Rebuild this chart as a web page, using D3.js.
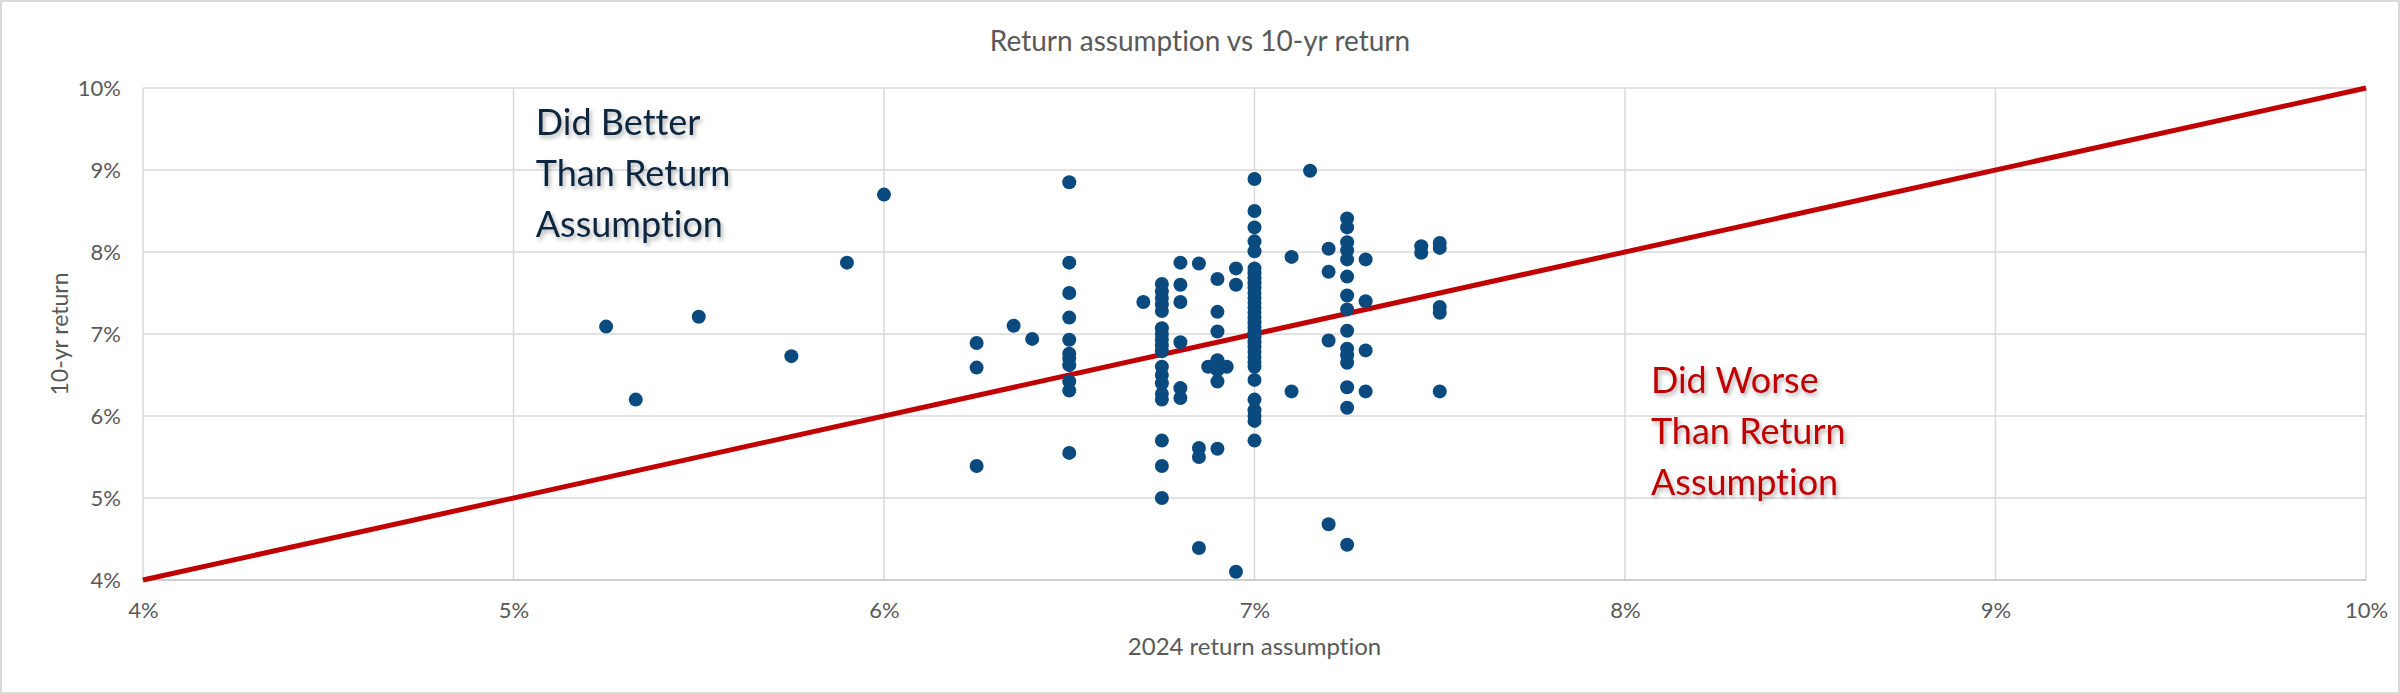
<!DOCTYPE html>
<html>
<head>
<meta charset="utf-8">
<title>Return assumption vs 10-yr return</title>
<script src="https://cdn.jsdelivr.net/npm/d3@7"></script>
<style>
    body { margin: 0; background: #ffffff; }
    #chart svg { display: block; }
    #chart text { font-variant-ligatures: none; }
</style>
</head>
<body>
<div id="chart"></div>
<script>
"use strict";

// 2024 return assumption (x) and 10-yr return (y), one pair per plan
const assumption = [
    5.25, 5.33, 5.5, 5.75, 5.9, 6.0,
    6.25, 6.25, 6.25, 6.35, 6.4,
    6.5, 6.5, 6.5, 6.5, 6.5, 6.5, 6.5, 6.5, 6.5, 6.5, 6.5,
    6.7,
    6.75, 6.75, 6.75, 6.75, 6.75, 6.75, 6.75, 6.75, 6.75, 6.75, 6.75, 6.75, 6.75, 6.75, 6.75, 6.75, 6.75, 6.75,
    6.8, 6.8, 6.8, 6.8, 6.8, 6.8,
    6.85, 6.85, 6.85, 6.85,
    6.9, 6.9, 6.9, 6.9, 6.875, 6.925, 6.9, 6.9, 6.9,
    6.95, 6.95, 6.95,
    7.0, 7.0, 7.0, 7.0, 7.0,
    7.0, 7.0, 7.0, 7.0, 7.0, 7.0, 7.0, 7.0, 7.0, 7.0, 7.0, 7.0, 7.0, 7.0, 7.0, 7.0, 7.0, 7.0, 7.0, 7.0, 7.0,
    7.0, 7.0, 7.0, 7.0, 7.0, 7.0,
    7.1, 7.1, 7.15,
    7.2, 7.2, 7.2, 7.2,
    7.25, 7.25, 7.25, 7.25, 7.25, 7.25, 7.25, 7.25, 7.25, 7.25, 7.25, 7.25, 7.25, 7.25, 7.25,
    7.3, 7.3, 7.3, 7.3,
    7.45, 7.45,
    7.5, 7.5, 7.5, 7.5, 7.5
];

const tenYearReturn = [
    7.09, 6.20, 7.21, 6.73, 7.87, 8.70,
    6.89, 6.59, 5.39, 7.10, 6.94,
    8.85, 7.87, 7.50, 7.20, 6.93, 6.76, 6.70, 6.62, 6.42, 6.31, 5.55,
    7.39,
    7.61, 7.52, 7.44, 7.36, 7.28, 7.07, 7.00, 6.93, 6.86, 6.79, 6.60, 6.50, 6.40, 6.27, 6.20, 5.70, 5.39, 5.00,
    7.87, 7.60, 7.39, 6.90, 6.34, 6.22,
    7.86, 5.61, 5.50, 4.39,
    7.67, 7.27, 7.03, 6.68, 6.60, 6.60, 6.56, 6.42, 5.60,
    7.80, 7.60, 4.10,
    8.89, 8.50, 8.30, 8.13, 8.01,
    7.80, 7.74, 7.68, 7.62, 7.56, 7.50, 7.44, 7.38, 7.32, 7.26, 7.20, 7.14, 7.08, 7.02, 6.96, 6.90, 6.84, 6.78, 6.72, 6.66, 6.60,
    6.44, 6.20, 6.07, 6.00, 5.94, 5.70,
    7.94, 6.30, 8.99,
    8.04, 7.76, 6.92, 4.68,
    8.41, 8.30, 8.12, 8.02, 7.91, 7.70, 7.47, 7.30, 7.04, 6.82, 6.74, 6.65, 6.35, 6.10, 4.43,
    7.91, 7.40, 6.80, 6.30,
    8.07, 7.99,
    8.11, 8.05, 7.33, 7.26, 6.30
];

// break-even line: 10-yr return equal to the assumption
const breakEvenX = [4, 10];
const breakEvenY = [4, 10];

const xTicks = [4, 5, 6, 7, 8, 9, 10];
const yTicks = [4, 5, 6, 7, 8, 9, 10];

const chartTitle = "Return assumption vs 10-yr return";
const xTitle = "2024 return assumption";
const yTitle = "10-yr return";
const betterLines = ["Did Better", "Than Return", "Assumption"];
const worseLines = ["Did Worse", "Than Return", "Assumption"];


const totalWidth = 2400,
    totalHeight = 694;

const margin = {top: 88, right: 34, bottom: 114, left: 143},
    width = totalWidth - margin.left - margin.right,
    height = totalHeight - margin.top - margin.bottom;

const fontFamily = "Lato, 'Open Sans', 'DejaVu Sans', sans-serif";
const textGrey = "#595959";
const gridGrey = "#d9d9d9";

const root = d3.select("#chart")
    .append("svg")
    .attr("width", totalWidth)
    .attr("height", totalHeight)
    .attr("font-family", fontFamily);

// soft shadow used by the two annotations
const defs = root.append("defs");
defs.append("filter")
    .attr("id", "text-shadow")
    .attr("x", "-10%").attr("y", "-30%")
    .attr("width", "130%").attr("height", "170%")
    .append("feDropShadow")
    .attr("dx", 2)
    .attr("dy", 3)
    .attr("stdDeviation", 2)
    .attr("flood-color", "#000000")
    .attr("flood-opacity", 0.3);

// chart area border
root.append("rect")
    .attr("x", 1)
    .attr("y", 1)
    .attr("width", totalWidth - 2)
    .attr("height", totalHeight - 2)
    .attr("fill", "#ffffff")
    .attr("stroke", gridGrey)
    .attr("stroke-width", 2);

// title
root.append("text")
    .attr("x", totalWidth / 2)
    .attr("y", 51)
    .attr("text-anchor", "middle")
    .attr("font-size", 28)
    .attr("fill", textGrey)
    .text(chartTitle);

const svg = root.append("g")
    .attr("transform", "translate(" + margin.left + "," + margin.top + ")");

const x = d3.scaleLinear()
    .domain([4, 10])
    .range([0, width]);

const y = d3.scaleLinear()
    .domain([4, 10])
    .range([height, 0]);

// gridlines
svg.append("g")
    .selectAll("line")
    .data(xTicks)
    .join("line")
    .attr("x1", d => x(d))
    .attr("x2", d => x(d))
    .attr("y1", 0)
    .attr("y2", height)
    .attr("stroke", gridGrey)
    .attr("stroke-width", 1.5);

svg.append("g")
    .selectAll("line")
    .data(yTicks)
    .join("line")
    .attr("x1", 0)
    .attr("x2", width)
    .attr("y1", d => y(d))
    .attr("y2", d => y(d))
    .attr("stroke", d => d === 4 ? "#bfbfbf" : gridGrey)
    .attr("stroke-width", 1.5);

// axes: only the labels, the lines are the gridlines above
const xAxis = svg.append("g")
    .attr("transform", "translate(0," + height + ")")
    .call(d3.axisBottom(x).tickValues(xTicks).tickFormat(d => d + "%").tickSize(0).tickPadding(22));

const yAxis = svg.append("g")
    .call(d3.axisLeft(y).tickValues(yTicks).tickFormat(d => d + "%").tickSize(0).tickPadding(22));

[xAxis, yAxis].forEach(function(axis) {
    axis.select(".domain").remove();
    axis.selectAll("text")
        .attr("font-family", fontFamily)
        .attr("font-size", 22)
        .attr("fill", textGrey);
});

// axis titles
svg.append("text")
    .attr("x", width / 2)
    .attr("y", height + 75)
    .attr("text-anchor", "middle")
    .attr("font-size", 24)
    .attr("fill", textGrey)
    .text(xTitle);

svg.append("text")
    .attr("transform", "translate(" + (68 - margin.left) + "," + (height / 2) + ") rotate(-90)")
    .attr("text-anchor", "middle")
    .attr("font-size", 23)
    .attr("fill", textGrey)
    .text(yTitle);

// break-even line
svg.append("path")
    .datum(d3.zip(breakEvenX, breakEvenY))
    .attr("fill", "none")
    .attr("stroke", "#c00000")
    .attr("stroke-width", 5)
    .attr("d", d3.line()
        .x(function(d) { return x(d[0]); })
        .y(function(d) { return y(d[1]); })
    );

// the plans
svg.append("g")
    .selectAll("circle")
    .data(d3.zip(assumption, tenYearReturn))
    .join("circle")
    .attr("cx", d => x(d[0]))
    .attr("cy", d => y(d[1]))
    .attr("r", 7)
    .attr("fill", "#0b4a7e");

// annotations
function addNote(lines, atX, atY, colour) {
    const note = svg.append("text")
        .attr("x", x(atX))
        .attr("y", y(atY))
        .attr("font-size", 36)
        .attr("fill", colour)
        .attr("filter", "url(#text-shadow)");

    note.selectAll("tspan")
        .data(lines)
        .join("tspan")
        .attr("x", x(atX))
        .attr("dy", (d, i) => i === 0 ? 0 : 51)
        .text(d => d);
}

addNote(betterLines, 5.06, 9.43, "#0e2841");
addNote(worseLines, 8.07, 6.28, "#c00000");

</script>
</body>
</html>
